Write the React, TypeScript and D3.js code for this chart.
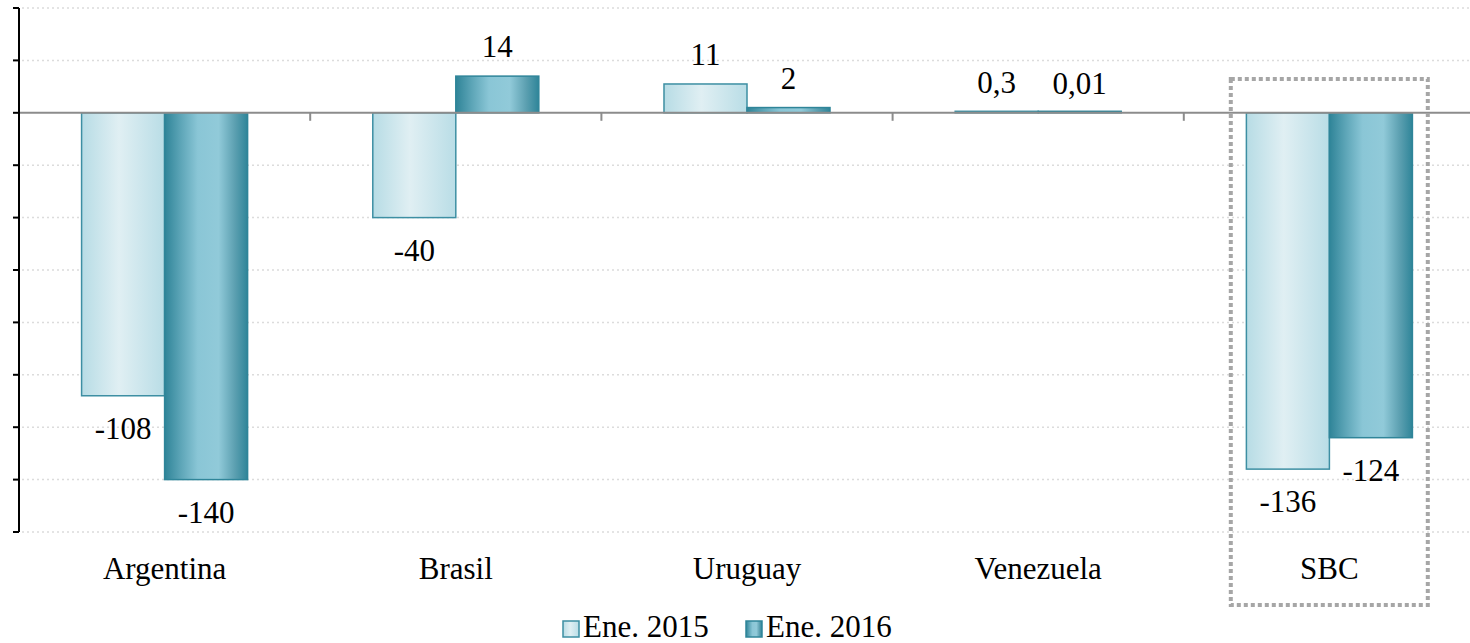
import * as d3 from "d3";

const categories = ["Argentina", "Brasil", "Uruguay", "Venezuela", "SBC"];
const seriesNames = ["Ene. 2015", "Ene. 2016"];
const values2015 = [-108, -40, 11, 0.3, -136];
const values2016 = [-140, 14, 2, 0.01, -124];
const labels2015 = ["-108", "-40", "11", "0,3", "-136"];
const labels2016 = ["-140", "14", "2", "0,01", "-124"];
const yTicks = [40, 20, 0, -20, -40, -60, -80, -100, -120, -140, -160];

const WIDTH = 1470;
const HEIGHT = 643;
const PLOT = { left: 19, right: 1475, top: 8, bottom: 532 };
const FONT = "Liberation Serif";
const FS = 31;

export default function App() {
  const y = d3.scaleLinear().domain([-160, 40]).range([PLOT.bottom, PLOT.top]);
  const x0 = d3.scaleBand<string>().domain(categories).range([PLOT.left, PLOT.right]);
  const x1 = d3
    .scaleBand<string>()
    .domain(seriesNames)
    .range([0, x0.bandwidth()])
    .paddingInner(0)
    .paddingOuter(0.754);

  const series = [
    { name: seriesNames[0], values: values2015, labels: labels2015, fill: "url(#g2015)", stroke: "#3d8fa3" },
    { name: seriesNames[1], values: values2016, labels: labels2016, fill: "url(#g2016)", stroke: "#2f8599" },
  ];

  const zeroY = y(0);
  const sbc = x0("SBC")!;

  return (
    <div>
      <style>{`body{margin:0}`}</style>
      <svg width={WIDTH} height={HEIGHT} style={{ display: "block" }} fontFamily={FONT}>
        <defs>
          <linearGradient id="g2015" x1="0" y1="0" x2="1" y2="0">
            <stop offset="0%" stopColor="#b7dce5" />
            <stop offset="45%" stopColor="#e0eff3" />
            <stop offset="100%" stopColor="#b9dde6" />
          </linearGradient>
          <linearGradient id="g2016" x1="0" y1="0" x2="1" y2="0">
            <stop offset="0%" stopColor="#2f8498" />
            <stop offset="20%" stopColor="#5ea6b8" />
            <stop offset="40%" stopColor="#8ac6d6" />
            <stop offset="65%" stopColor="#91cad9" />
            <stop offset="85%" stopColor="#5b9fb0" />
            <stop offset="100%" stopColor="#2f8599" />
          </linearGradient>
        </defs>

        {/* gridlines */}
        {yTicks.map((t) =>
          t === 0 ? null : (
            <line
              key={`g${t}`}
              x1={PLOT.left + 3}
              x2={WIDTH}
              y1={y(t)}
              y2={y(t)}
              stroke="#dcdcdc"
              strokeWidth={1.5}
              strokeDasharray="2,3"
            />
          )
        )}

        {/* bars */}
        {series.map((s) =>
          categories.map((c, i) => {
            const v = s.values[i];
            const bx = x0(c)! + x1(s.name)!;
            const top = Math.min(y(v), zeroY);
            const h = Math.max(Math.abs(y(v) - zeroY), 1.5);
            return (
              <rect
                key={`${s.name}-${c}`}
                x={bx}
                y={v >= 0 ? zeroY - h : top}
                width={x1.bandwidth()}
                height={h}
                fill={s.fill}
                stroke={s.stroke}
                strokeWidth={1.5}
              />
            );
          })
        )}

        {/* zero line and category ticks */}
        <line x1={PLOT.left} x2={WIDTH} y1={zeroY} y2={zeroY} stroke="#8c8c8c" strokeWidth={2} />
        {categories.slice(1).map((c) => (
          <line key={`t${c}`} x1={x0(c)} x2={x0(c)} y1={zeroY} y2={zeroY + 8} stroke="#8c8c8c" strokeWidth={2} />
        ))}

        {/* y axis */}
        <line x1={PLOT.left} x2={PLOT.left} y1={y(40)} y2={y(-160)} stroke="#000" strokeWidth={2} />
        {yTicks.map((t) => (
          <line key={`yt${t}`} x1={PLOT.left - 6} x2={PLOT.left} y1={y(t)} y2={y(t)} stroke="#000" strokeWidth={2} />
        ))}

        {/* value labels */}
        {series.map((s) =>
          categories.map((c, i) => {
            const v = s.values[i];
            const cx = x0(c)! + x1(s.name)! + x1.bandwidth() / 2;
            const ly = v >= 0 ? y(v) - 19 : y(v) + 43;
            return (
              <text key={`l${s.name}-${c}`} x={cx} y={ly} textAnchor="middle" fontSize={FS} fill="#000">
                {s.labels[i]}
              </text>
            );
          })
        )}

        {/* category labels */}
        {categories.map((c) => (
          <text key={`c${c}`} x={x0(c)! + x0.bandwidth() / 2} y={579} textAnchor="middle" fontSize={FS} fill="#000">
            {c}
          </text>
        ))}

        {/* SBC highlight box */}
        <rect
          x={sbc + 47}
          y={79}
          width={197}
          height={526}
          fill="none"
          stroke="#a6a6a6"
          strokeWidth={4}
          strokeDasharray="4,3"
        />

        {/* legend */}
        {series.map((s, i) => {
          const lx = 563 + i * 183;
          return (
            <g key={`lg${s.name}`}>
              <rect x={lx} y={621} width={16} height={16} fill={s.fill} stroke={s.stroke} strokeWidth={1.5} />
              <text x={lx + 20} y={637} fontSize={FS} fill="#000">
                {s.name}
              </text>
            </g>
          );
        })}
      </svg>
    </div>
  );
}
